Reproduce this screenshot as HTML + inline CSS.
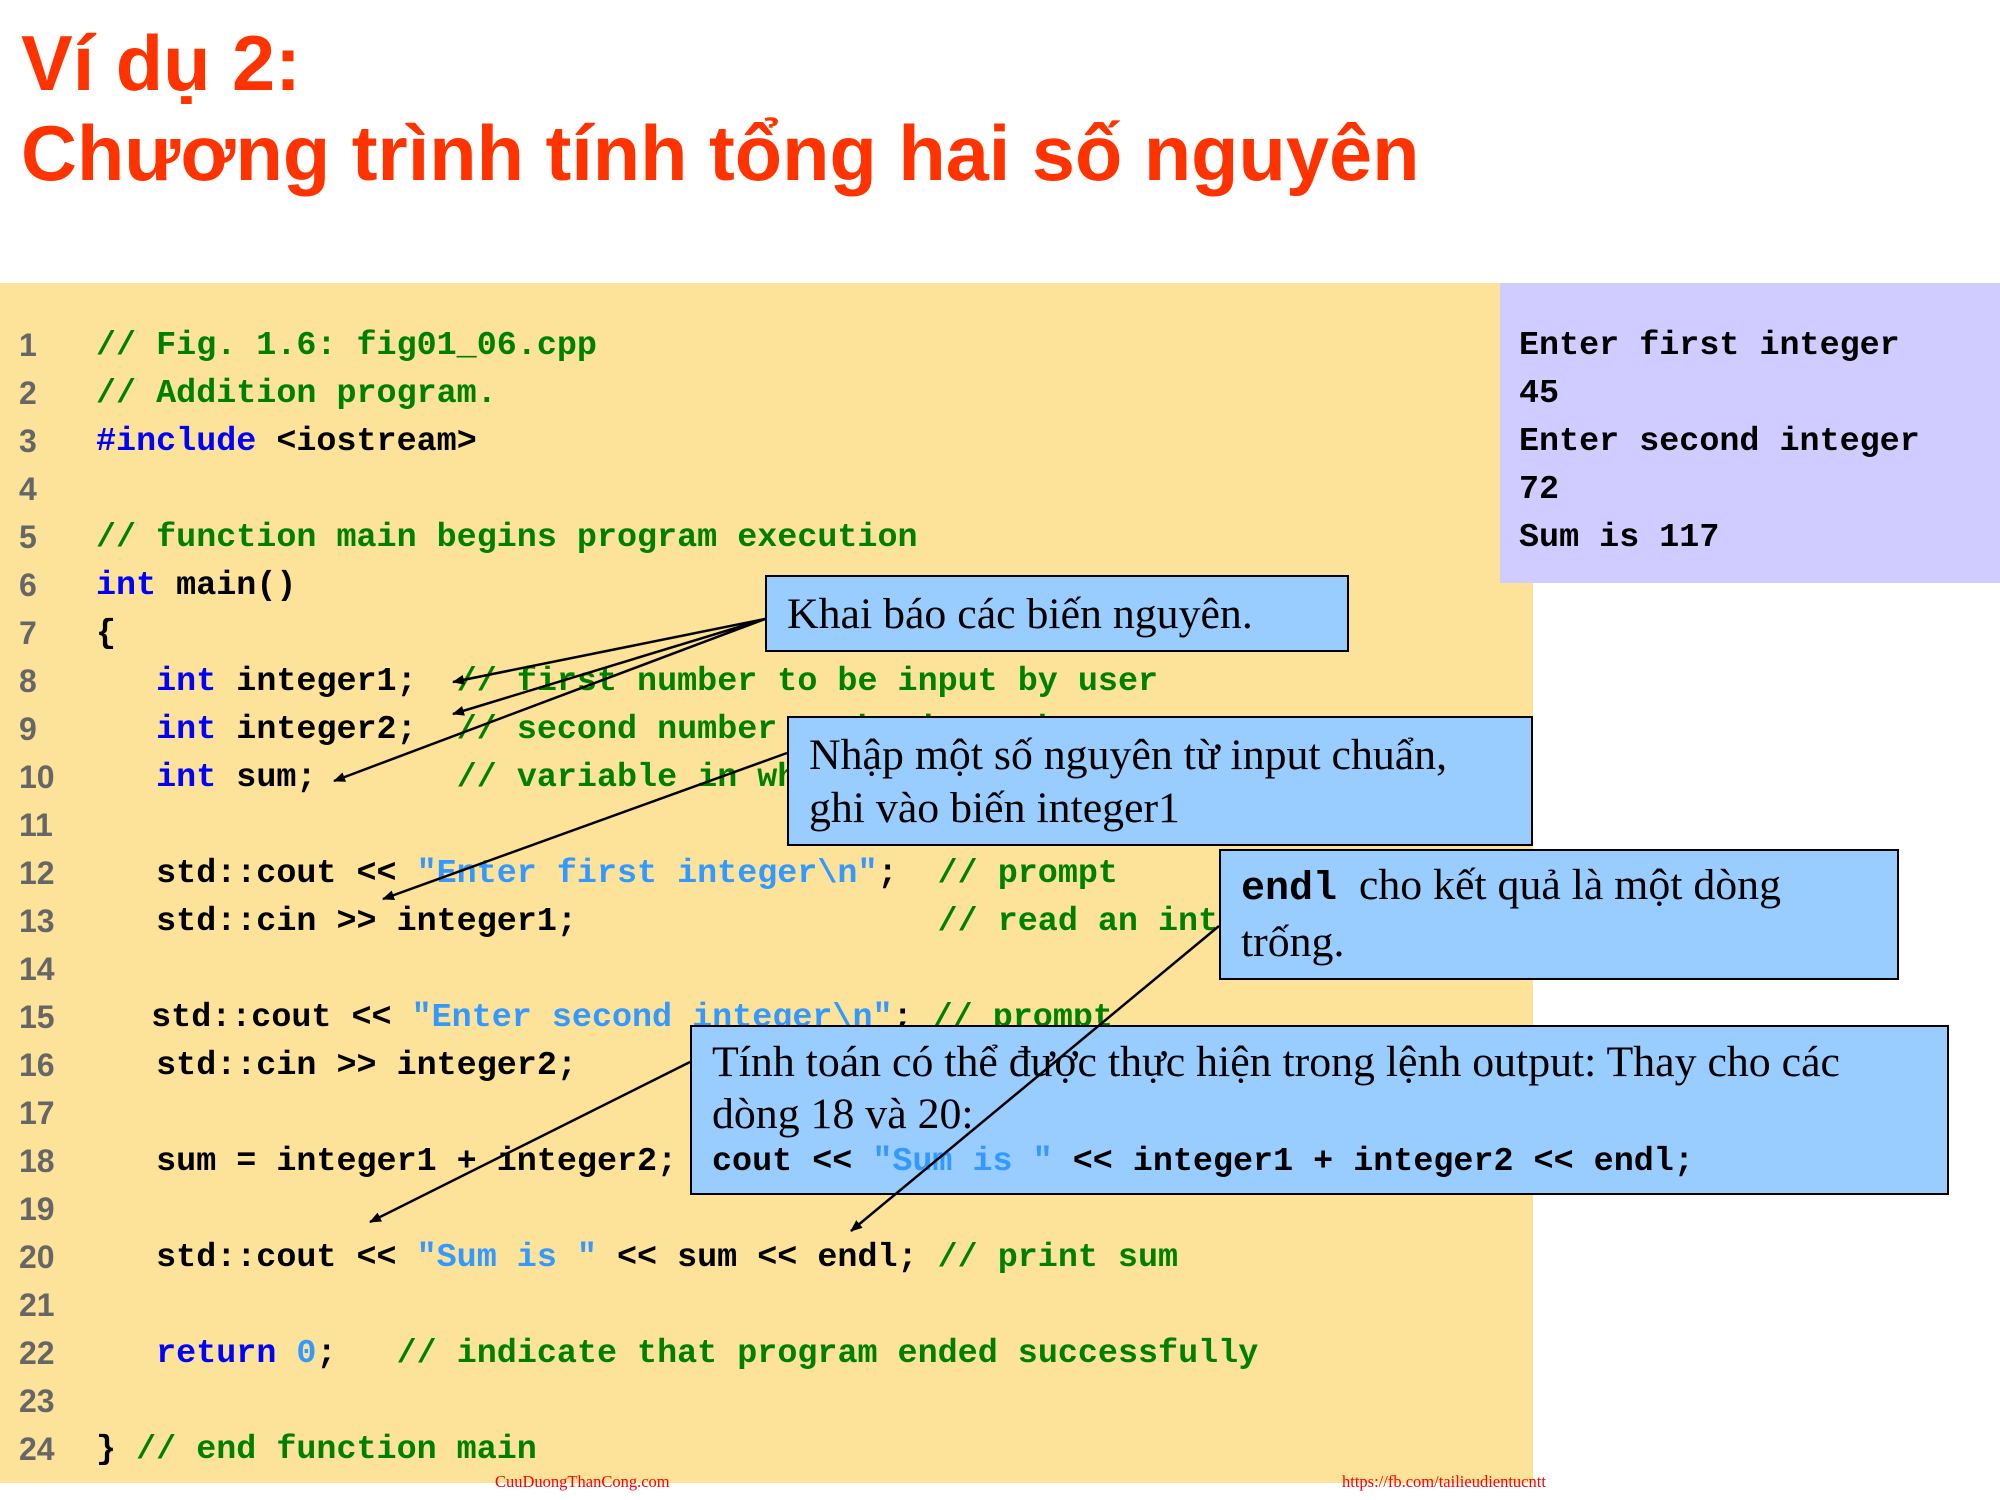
<!DOCTYPE html>
<html><head><meta charset="utf-8"><style>
body{margin:0;width:2000px;height:1500px;position:relative;background:#fff;overflow:hidden;font-family:"Liberation Sans",sans-serif}
.t{position:absolute;left:21px;color:#FF3300;font-weight:bold;font-size:77.5px;line-height:1;white-space:nowrap}
.code{position:absolute;font-family:"Liberation Mono",monospace;font-weight:bold;font-size:33.4px;white-space:pre;line-height:48px;margin:0}
.ln{position:absolute;left:19px;font-family:"Liberation Sans",sans-serif;font-weight:bold;font-size:32px;color:#666;line-height:48px;white-space:pre}
.c{color:#008000}.k{color:#0000FF}.s{color:#3399FF}
.box{position:absolute;background:#99CCFF;border:2.5px solid #000;box-sizing:border-box;font-family:"Liberation Serif",serif;font-size:43.8px;color:#000;line-height:53px;padding:11px 0 0 20px;white-space:nowrap}
.foot{position:absolute;top:1472px;font-family:"Liberation Serif",serif;font-size:16.5px;color:#FF0000}
</style></head><body>
<div class="t" style="top:26px">Ví dụ 2:</div>
<div class="t" style="top:116px">Chương trình tính tổng hai số nguyên</div>
<div style="position:absolute;left:0;top:283px;width:1533px;height:1200px;background:#FDE29A"></div>
<div style="position:absolute;left:1500px;top:283px;width:500px;height:300px;background:#D0CCFF"></div>
<div class="ln" style="top:321px">1
2
3
4
5
6
7
8
9
10
11
12
13
14
15
16
17
18
19
20
21
22
23
24</div>
<pre class="code" style="left:96px;top:322px"><span class="c">// Fig. 1.6: fig01_06.cpp</span>
<span class="c">// Addition program.</span>
<span class="k">#include</span> &lt;iostream&gt;

<span class="c">// function main begins program execution</span>
<span class="k">int</span> main()
{
   <span class="k">int</span> integer1;  <span class="c">// first number to be input by user</span>
   <span class="k">int</span> integer2;  <span class="c">// second number to be input by user</span>
   <span class="k">int</span> sum;       <span class="c">// variable in which sum will be stored</span>

   std::cout &lt;&lt; <span class="s">"Enter first integer\n"</span>;  <span class="c">// prompt</span>
   std::cin &gt;&gt; integer1;                  <span class="c">// read an integer</span>

<span style="position:relative;left:-5px">   std::cout &lt;&lt; <span class="s">"Enter second integer\n"</span>; <span class="c">// prompt</span></span>
   std::cin &gt;&gt; integer2;                  <span class="c">// read an integer</span>

   sum = integer1 + integer2; <span class="c">// assign result to sum</span>

   std::cout &lt;&lt; <span class="s">"Sum is "</span> &lt;&lt; sum &lt;&lt; endl; <span class="c">// print sum</span>

   <span class="k">return</span> <span class="s">0</span>;   <span class="c">// indicate that program ended successfully</span>

} <span class="c">// end function main</span></pre>
<pre class="code" style="left:1519px;top:322px">Enter first integer
45
Enter second integer
72
Sum is 117</pre>
<div class="box" style="left:765px;top:575px;width:584px;height:77px">Khai báo các biến nguyên.</div>
<div class="box" style="left:787px;top:716px;width:746px;height:130px">Nhập một số nguyên từ input chuẩn,<br>ghi vào biến integer1</div>
<div class="box" style="left:1219px;top:849px;width:680px;height:131px;padding-top:8px"><span style="font-family:'Liberation Mono',monospace;font-weight:bold;font-size:40px">endl</span>&nbsp; cho kết quả là một dòng<br>trống.</div>
<div class="box" style="left:690px;top:1025px;width:1259px;height:170px;line-height:52px;padding-top:9px">Tính toán có thể được thực hiện trong lệnh output: Thay cho các<br>dòng 18 và 20:<br><span style="font-family:'Liberation Mono',monospace;font-weight:bold;font-size:33.4px;line-height:30px;position:relative;top:-10px">cout &lt;&lt; <span class="s">"Sum is "</span> &lt;&lt; integer1 + integer2 &lt;&lt; endl;</span></div>
<svg style="position:absolute;left:0;top:0" width="2000" height="1500">
<defs><marker id="a" markerWidth="12" markerHeight="10" refX="11" refY="5" orient="auto" markerUnits="userSpaceOnUse" viewBox="0 0 12 10"><path d="M0,0 L12,5 L0,10 z" fill="#000"/></marker></defs>
<g stroke="#000" stroke-width="2.5" fill="none" marker-end="url(#a)">
<line x1="765" y1="619" x2="453" y2="682"/>
<line x1="765" y1="619" x2="453" y2="714"/>
<line x1="765" y1="619" x2="334" y2="781"/>
<line x1="787" y1="753" x2="383" y2="899"/>
<line x1="1219" y1="926" x2="851" y2="1231"/>
<line x1="690" y1="1062" x2="370" y2="1222"/>
</g></svg>
<div class="foot" style="left:495px">CuuDuongThanCong.com</div>
<div class="foot" style="left:1342px">https://fb.com/tailieudientucntt</div>
</body></html>
